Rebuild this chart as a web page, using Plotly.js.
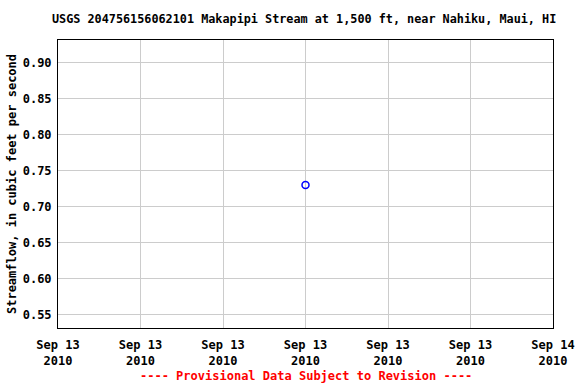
<!DOCTYPE html>
<html><head><meta charset="utf-8">
<script src="https://cdn.plot.ly/plotly-3.0.1.min.js"></script>
<style>body{margin:0;}#c{width:576px;height:384px;}</style>
</head><body><div id="c"></div>
<script>
var times = ["2010-09-13 12:00"];
var flows = [0.73];
var tickVals = ["2010-09-13 00:00","2010-09-13 04:00","2010-09-13 08:00","2010-09-13 12:00","2010-09-13 16:00","2010-09-13 20:00","2010-09-14 00:00"];
var tickText = ["Sep 13<br>2010","Sep 13<br>2010","Sep 13<br>2010","Sep 13<br>2010","Sep 13<br>2010","Sep 13<br>2010","Sep 14<br>2010"];
var yTicks = [0.55,0.60,0.65,0.70,0.75,0.80,0.85,0.90];
var yText = ["0.55","0.60","0.65","0.70","0.75","0.80","0.85","0.90"];
var F = "DejaVu Sans Mono, monospace";
function bold(a){ return a.map(function(s){ return s.split("<br>").map(function(p){return "<b>"+p+"</b>";}).join("<br>"); }); }
Plotly.newPlot("c", [{
  x: times, y: flows, type: "scatter", mode: "markers",
  marker: {symbol: "circle-open", size: 7, color: "#0000ff", line: {width: 1.5, color: "#0000ff"}},
  showlegend: false
}], {
  width: 576, height: 384,
  margin: {l: 58, r: 23, t: 40, b: 56},
  paper_bgcolor: "#ffffff", plot_bgcolor: "#ffffff",
  title: {text: "<b>USGS 204756156062101 Makapipi Stream at 1,500 ft, near Nahiku, Maui, HI</b>", font: {family: F, size: 11.8, color: "#000"}, x: 0.528, xanchor: "center", y: 0.952, yanchor: "middle"},
  xaxis: {
    type: "date", range: ["2010-09-13 00:00","2010-09-14 00:00"],
    tickmode: "array", tickvals: tickVals, ticktext: bold(tickText),
    tickfont: {family: F, size: 12, color: "#000"},
    showgrid: true, gridcolor: "#cccccc", gridwidth: 1,
    showline: true, linecolor: "#000", linewidth: 1, mirror: true,
    ticks: "", zeroline: false, ticklabelstandoff: 6
  },
  yaxis: {
    range: [0.5313, 0.9315],
    tickmode: "array", tickvals: yTicks, ticktext: bold(yText),
    tickfont: {family: F, size: 12, color: "#000"},
    showgrid: true, gridcolor: "#cccccc", gridwidth: 1,
    showline: true, linecolor: "#000", linewidth: 1, mirror: true,
    ticks: "", zeroline: false, ticklabelstandoff: 3,
    title: {text: "<b>Streamflow, in cubic feet per second</b>", font: {family: F, size: 12, color: "#000"}, standoff: 3}
  },
  annotations: [{
    text: "<b>---- Provisional Data Subject to Revision ----</b>",
    xref: "paper", yref: "paper", x: 0.5, y: -0.165, xanchor: "center", yanchor: "middle",
    showarrow: false, font: {family: F, size: 12, color: "#ff0000"}
  }]
}, {displayModeBar: false});
</script></body></html>
